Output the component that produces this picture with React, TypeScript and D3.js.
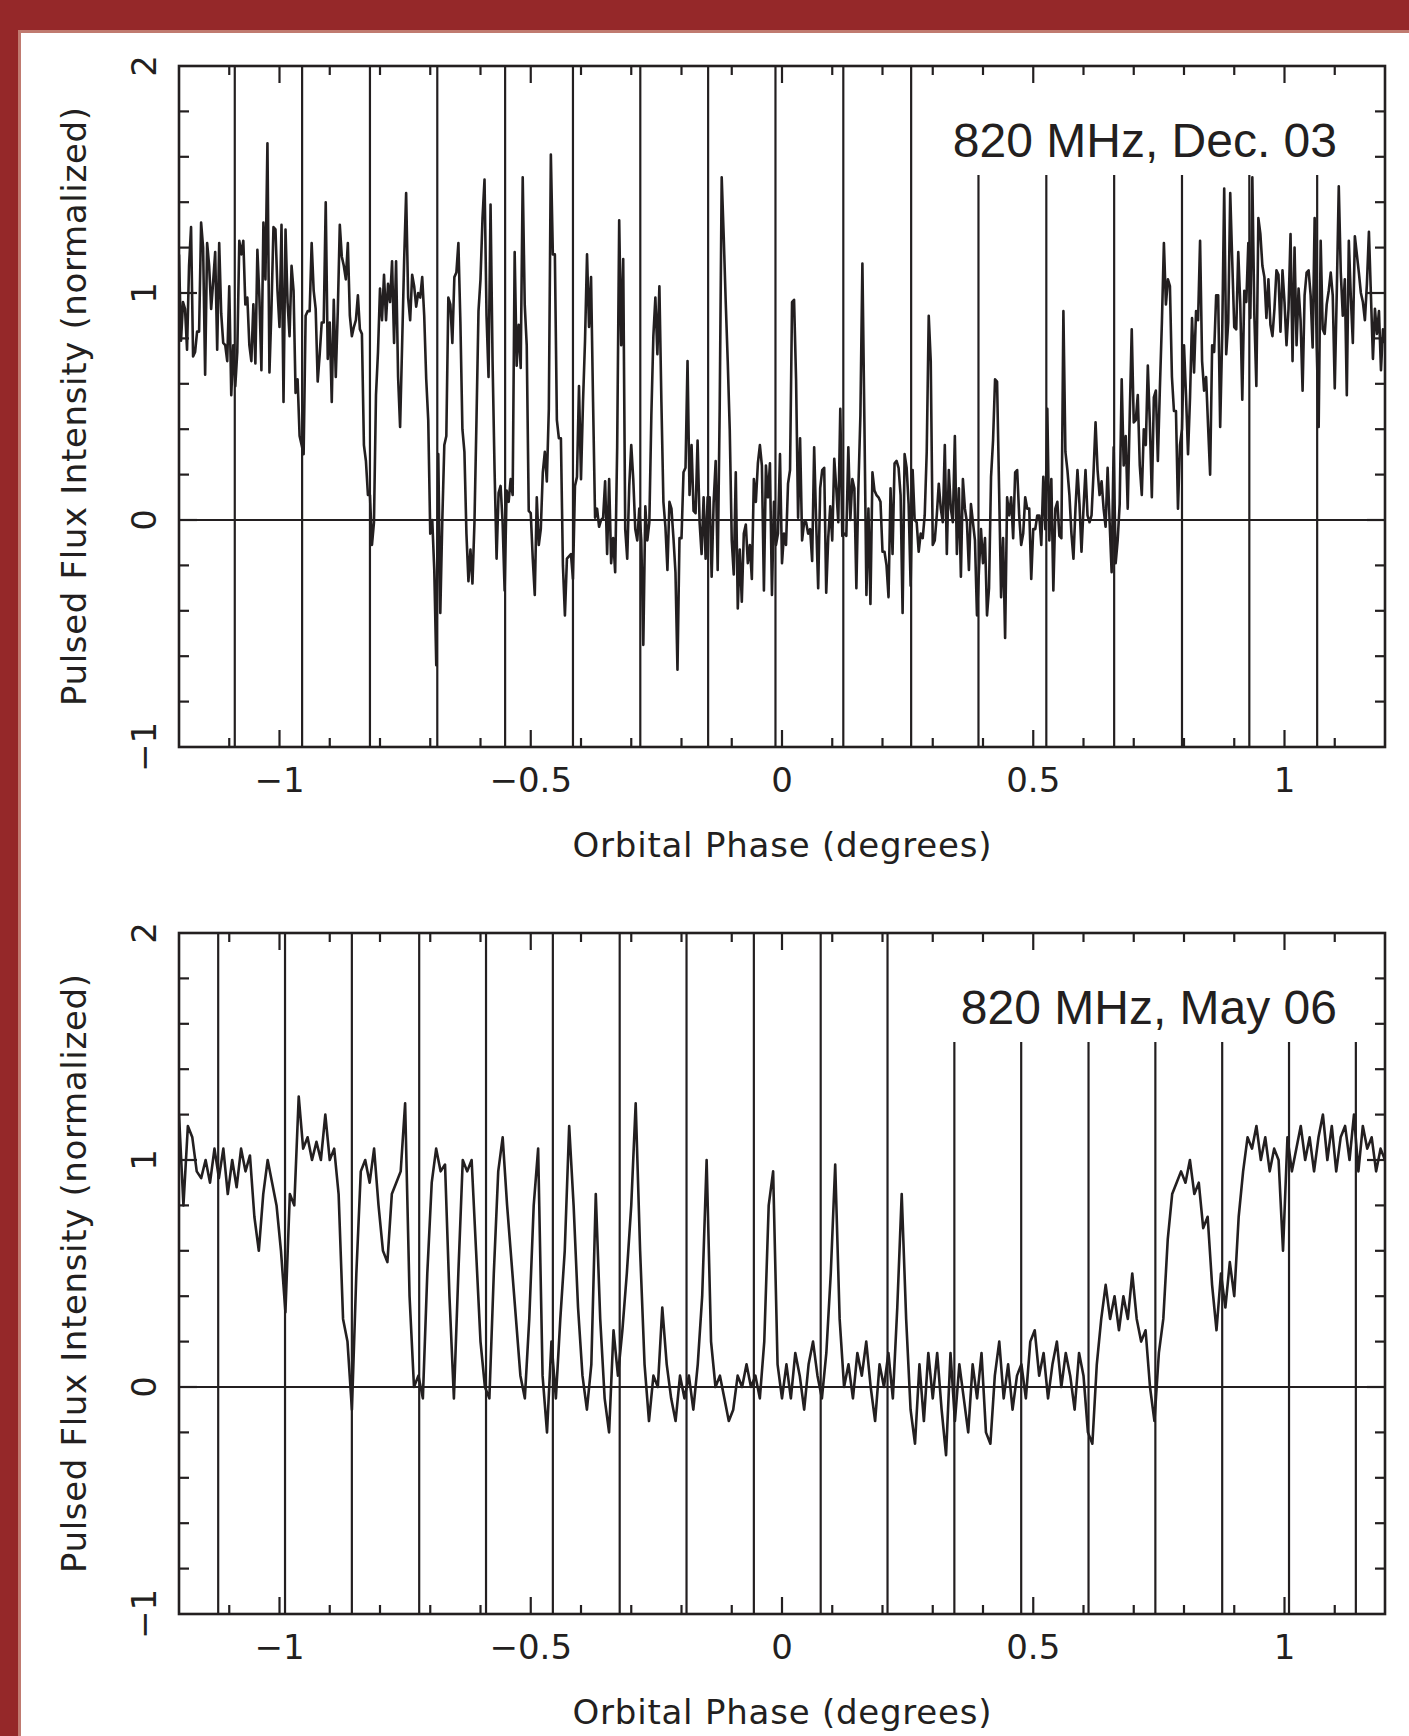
import React from 'react';
import * as d3 from 'd3';

// Pulsed flux, 820 MHz, Dec. 03 (phase -1.2 .. 1.2, evenly sampled)
const decFlux = [
  1.17, 0.79, 0.96, 0.93, 0.75, 1.12, 1.29, 0.72, 0.74, 0.83,
  0.83, 1.31, 1.20, 0.64, 1.22, 1.12, 0.93, 1.05, 1.18, 0.75, 1.22,
  0.91, 0.78, 0.77, 0.70, 1.03, 0.55, 0.77, 0.59, 0.74, 1.23,
  1.17, 1.23, 0.95, 0.98, 0.77, 0.70, 0.95, 0.69, 1.19, 0.98, 0.66,
  1.31, 1.06, 1.66, 0.65, 0.93, 1.29, 1.28, 1.01, 0.85, 1.30,
  0.52, 1.28, 0.96, 0.81, 1.12, 1.01, 0.56, 0.62, 0.37, 0.33,
  0.29, 0.90, 0.92, 0.92, 1.22, 1.01, 0.93, 0.61, 0.73, 0.87,
  0.87, 1.40, 0.71, 0.87, 0.52, 0.97, 0.63, 0.92, 1.30, 1.16,
  1.12, 1.06, 1.22, 0.90, 0.81, 0.85, 0.88, 0.99, 0.84, 0.82, 0.33,
  0.26, 0.11, 0.11, -0.11, -0.01, 0.55, 0.74, 1.02, 0.88, 1.08,
  0.88, 1.04, 0.96, 1.14, 0.78, 1.14, 0.63, 0.41, 0.77, 1.14,
  1.44, 0.98, 0.88, 1.08, 1.03, 0.94, 1.00, 0.98, 1.07, 0.90, 0.62,
  0.44, -0.06, 0.00, -0.22, -0.64, 0.29, -0.41, 0.00, 0.33, 0.37,
  0.98, 0.95, 0.78, 1.07, 1.09, 1.22, 0.87, 0.40, 0.30, -0.06,
  -0.27, -0.13, -0.28, -0.01, 0.44, 0.92, 1.06, 1.33, 1.50,
  0.90, 0.63, 1.39, 0.70, 0.22, -0.17, 0.12, 0.15, -0.01, -0.31,
  0.13, 0.08, 0.18, 0.11, 1.18, 0.68, 0.86, 0.67, 1.51, 0.95,
  0.77, 0.04, 0.03, -0.17, -0.33, 0.10, -0.11, -0.04, 0.21, 0.30, 0.17,
  0.49, 1.61, 1.17, 1.17, 0.44, 0.36, 0.36, -0.20, -0.42, -0.17,
  -0.16, -0.15, -0.26, 0.15, 0.19, 0.59, 0.18, 0.52, 0.79, 1.17,
  0.85, 1.07, 0.52, 0.01, 0.05, -0.03, 0.00, 0.01, 0.17, -0.15, 0.18,
  -0.19, -0.08, -0.23, 0.32, 1.32, 0.77, 1.15, -0.04, -0.17, 0.15,
  0.33, 0.18, -0.04, -0.09, 0.05, -0.09, -0.55, 0.06, -0.09, -0.01,
  0.46, 0.81, 0.98, 0.73, 1.03, 0.52, 0.08, -0.03, -0.22, 0.08,
  0.05, -0.08, -0.23, -0.66, -0.08, -0.08, 0.21, 0.23, 0.70, 0.11,
  0.33, 0.04, 0.03, 0.35, -0.01, -0.15, 0.10, -0.17, 0.10, 0.10,
  -0.25, 0.08, 0.26, -0.22, 0.49, 1.51, 1.25, 0.96, 0.70, 0.40,
  -0.09, -0.24, 0.21, -0.39, -0.13, -0.36, -0.06, -0.02, -0.19, -0.11, -0.26,
  0.18, 0.08, 0.25, 0.33, 0.24, -0.31, 0.24, 0.10, 0.25, -0.33,
  0.08, -0.11, -0.06, 0.29, -0.19, -0.06, -0.11, 0.16, 0.22,
  0.96, 0.97, 0.62, 0.01, 0.36, -0.09, -0.01, -0.01, -0.06, -0.04,
  -0.18, 0.32, -0.01, -0.30, 0.14, 0.22, 0.23, -0.32, -0.08, 0.06,
  -0.09, 0.27, 0.14, -0.01, 0.49, -0.07, -0.06, -0.07, 0.32, 0.00,
  0.18, 0.14, -0.30, 0.14, 0.46, 1.13, 0.43, -0.33, 0.05, -0.37,
  0.21, 0.13, 0.11, 0.10, 0.08, -0.14, -0.14, -0.20, -0.34, 0.14,
  -0.15, 0.25, 0.26, 0.23, 0.11, -0.41, 0.29, 0.23, 0.07, -0.29,
  0.22, 0.00, -0.01, -0.14, -0.06, -0.08, 0.02, 0.30, 0.90, 0.70,
  -0.11, -0.09, 0.02, 0.16, 0.05, -0.01, 0.33, -0.15, 0.22, 0.05,
  -0.01, 0.37, -0.15, 0.14, -0.25, 0.18, 0.05, -0.01, -0.22, 0.07,
  -0.01, -0.09, -0.42, -0.22, -0.04, -0.19, -0.08, -0.42, -0.30, 0.19,
  0.35, 0.62, 0.61, 0.14, -0.34, -0.08, -0.52, 0.10, 0.02, 0.10,
  -0.08, 0.21, 0.22, 0.02, -0.11, -0.06, 0.10, 0.05, 0.05, -0.26,
  -0.04, -0.04, 0.02, 0.02, -0.11, 0.19, -0.04, 0.49, -0.09, 0.18,
  -0.31, 0.05, 0.08, -0.07, -0.08, 0.92, 0.30, 0.22, 0.11, -0.06,
  -0.17, 0.05, 0.22, 0.07, -0.14, 0.05, 0.22, 0.02, -0.01, 0.02,
  0.21, 0.43,
  0.22, 0.11, 0.17, 0.05, -0.03, 0.23, -0.01, -0.23, 0.32, -0.19,
  -0.09, 0.07, 0.62, 0.24, 0.37, 0.05, 0.46, 0.84, 0.43, 0.44,
  0.55, 0.24, 0.11, 0.40, 0.33, 0.68, 0.43, 0.10, 0.54, 0.57,
  0.26, 0.58, 0.87, 1.22, 0.95, 1.06, 1.03, 0.63, 0.48, 0.48,
  0.05, 0.33, 0.40, 0.77, 0.55, 0.29, 0.54, 0.89, 0.65, 0.92,
  0.88, 1.23, 0.70, 0.57, 0.63, 0.41, 0.20, 0.77, 0.74, 0.99,
  0.99, 0.41, 0.81, 1.46, 0.73, 0.87, 1.44, 1.14, 0.85, 0.84,
  1.18, 0.95, 0.53, 1.01, 0.96, 1.22, 0.89, 1.51, 0.90, 0.59,
  1.33, 1.26, 1.12, 1.07, 0.89, 1.06, 0.86, 0.81, 0.93,
  1.10, 1.08, 0.83, 1.10, 0.96, 0.77, 0.93, 1.26, 0.70, 1.20,
  0.77, 1.02, 0.88, 0.57, 0.99, 1.09, 1.10, 0.99, 0.76, 1.33,
  0.77, 0.41, 1.23, 0.84, 0.82, 0.95, 1.01, 1.09, 0.99, 0.58,
  1.00, 1.47, 1.09, 0.90, 1.06, 0.55, 1.23, 0.98, 0.78, 1.25,
  1.17, 1.09, 1.00, 0.96, 0.88, 1.04, 1.27, 0.99, 0.71, 0.93,
  0.82, 0.92, 0.66, 0.84, 0.78,
];

// Pulsed flux, 820 MHz, May 06 (phase -1.2 .. 1.2, evenly sampled)
const mayFlux = [
  1.2, 0.8, 1.15, 1.1, 0.95, 0.92, 1.0, 0.9, 1.05, 0.92,
  1.05, 0.85, 1.0, 0.88, 1.05, 0.95, 1.02, 0.75, 0.6, 0.85,
  1.0, 0.9, 0.8, 0.6, 0.33, 0.85, 0.8, 1.28, 1.05, 1.1,
  1.0, 1.08, 1.0, 1.2, 1.0, 1.05, 0.85, 0.3, 0.2, -0.1,
  0.5, 0.95, 1.0, 0.9, 1.05, 0.8, 0.6, 0.55, 0.85, 0.9,
  0.95, 1.25, 0.4, 0.0, 0.05, -0.05, 0.5, 0.9, 1.05, 0.95,
  0.98, 0.4, -0.05, 0.5, 1.0, 0.95, 1.0, 0.6, 0.2, 0.0,
  -0.05, 0.5, 0.95, 1.1, 0.8, 0.55, 0.3, 0.05, -0.05, 0.3,
  0.8, 1.05, 0.05, -0.2, 0.2, -0.05, 0.3, 0.6, 1.15, 0.8,
  0.35, 0.05, -0.1, 0.1, 0.85, 0.3, -0.05, -0.2, 0.25, 0.05,
  0.25, 0.5, 0.8, 1.25, 0.6, 0.1, -0.15, 0.05, 0.0, 0.35,
  0.1, -0.05, -0.15, 0.05, -0.05, 0.05, -0.1, 0.1, 0.4, 1.0,
  0.2, 0.0, 0.05, -0.05, -0.15, -0.1, 0.05, 0.0, 0.1, 0.0,
  0.05, -0.05, 0.2, 0.8, 0.95, 0.1, -0.05, 0.1, -0.05, 0.15,
  0.05, -0.1, 0.1, 0.2, 0.05, -0.05, 0.15, 0.5, 0.98, 0.3,
  0.0, 0.1, -0.05, 0.15, 0.05, 0.2, 0.0, -0.15, 0.1, 0.0,
  0.15, -0.05, 0.35, 0.85, 0.3, -0.1, -0.25, 0.1, -0.15, 0.15,
  -0.05, 0.15, -0.1, -0.3, 0.15, -0.15, 0.1, -0.05, -0.2, 0.1,
  -0.05, 0.15, -0.2, -0.25, 0.05, 0.2, -0.05, 0.1, -0.1, 0.05,
  0.1, -0.05, 0.2, 0.25, 0.05, 0.15, -0.05, 0.1, 0.2, 0.0,
  0.15, 0.05, -0.1, 0.15, 0.05, -0.2, -0.25, 0.1, 0.3, 0.45,
  0.3, 0.4, 0.25, 0.4, 0.3, 0.5, 0.3, 0.2, 0.25, 0.0,
  -0.15, 0.15, 0.3, 0.65, 0.85, 0.9, 0.95, 0.9, 1.0, 0.85,
  0.9, 0.7, 0.75, 0.45, 0.25, 0.5, 0.35, 0.55, 0.4, 0.75,
  0.95, 1.1, 1.05, 1.15, 1.0, 1.1, 0.95, 1.05, 1.0, 0.6,
  1.1, 0.95, 1.05, 1.15, 1.0, 1.1, 0.95, 1.1, 1.2, 1.0,
  1.15, 0.95, 1.1, 1.15, 1.0, 1.2, 0.95, 1.15, 1.05, 1.1,
  0.95, 1.05, 1.0,
];

// vertical marker phases
const decMarkers = [-1.089, -0.955, -0.82, -0.686, -0.551, -0.416, -0.282, -0.147, -0.013,
  0.122, 0.257, 0.391, 0.526, 0.661, 0.796, 0.93, 1.065];
const mayMarkers = [-1.122, -0.989, -0.856, -0.722, -0.589, -0.456, -0.323, -0.19, -0.056,
  0.077, 0.21, 0.343, 0.476, 0.61, 0.743, 0.876, 1.009, 1.142];

const phaseDomain: [number, number] = [-1.2, 1.2];
const fluxDomain: [number, number] = [-1, 2];
const xTickLabels = [-1, -0.5, 0, 0.5, 1];
const yTickLabels = [-1, 0, 1, 2];

const ink = '#231f20';
const axisFont = 'DejaVu Sans, sans-serif';
const fmt = (v: number) => (v < 0 ? '\u2212' + String(-v) : String(v));

interface PanelProps {
  top: number;
  flux: number[];
  markers: number[];
  shortFrom: number;
  label: string;
  id: string;
}

const Panel: React.FC<PanelProps> = ({ top, flux, markers, shortFrom, label, id }) => {
  const left = 179, right = 1385, h = 681;
  const x = d3.scaleLinear().domain(phaseDomain).range([left, right]);
  const y = d3.scaleLinear().domain(fluxDomain).range([top + h, top]);
  const n = flux.length;
  const pts: [number, number][] = flux.map((v, i) => [phaseDomain[0] + (i * (phaseDomain[1] - phaseDomain[0])) / (n - 1), v]);
  const line = d3.line<[number, number]>().x(d => x(d[0])).y(d => y(d[1]));

  const xt = d3.range(-11, 12).map(k => ({ v: k / 10, major: k % 5 === 0 }));
  const yt = d3.range(-4, 10).map(k => ({ v: k / 5, major: k % 5 === 0 }));

  return (
    <g>
      <defs>
        <clipPath id={id}>
          <rect x={left} y={top} width={right - left} height={h} />
        </clipPath>
      </defs>
      {/* marker lines */}
      {markers.map(m => (
        <line key={m} x1={x(m)} x2={x(m)} y1={m >= shortFrom ? y(1.52) : y(2)} y2={y(-1)}
          stroke={ink} strokeWidth={2.2} />
      ))}
      {/* zero line */}
      <line x1={left} x2={right} y1={y(0)} y2={y(0)} stroke={ink} strokeWidth={2.2} />
      <path d={line(pts) || ''} fill="none" stroke={ink} strokeWidth={2.6} strokeLinejoin="round"
        clipPath={`url(#${id})`} />
      {/* ticks */}
      {xt.map(t => {
        const len = t.major ? 17 : 9;
        return (
          <g key={'x' + t.v}>
            <line x1={x(t.v)} x2={x(t.v)} y1={top + h} y2={top + h - len} stroke={ink} strokeWidth={2.2} />
            <line x1={x(t.v)} x2={x(t.v)} y1={top} y2={top + len} stroke={ink} strokeWidth={2.2} />
          </g>
        );
      })}
      {yt.map(t => {
        const len = t.major ? 18 : 10;
        return (
          <g key={'y' + t.v}>
            <line x1={left} x2={left + len} y1={y(t.v)} y2={y(t.v)} stroke={ink} strokeWidth={2.2} />
            <line x1={right} x2={right - len} y1={y(t.v)} y2={y(t.v)} stroke={ink} strokeWidth={2.2} />
          </g>
        );
      })}
      <rect x={left} y={top} width={right - left} height={h} fill="none" stroke={ink} strokeWidth={2.6} />
      {/* tick labels */}
      {xTickLabels.map(v => (
        <text key={'xl' + v} x={x(v)} y={top + h + 45} textAnchor="middle" fontSize={34}
          fontFamily={axisFont} fill={ink}>{fmt(v)}</text>
      ))}
      {yTickLabels.map(v => (
        <text key={'yl' + v} transform={`translate(156,${y(v)}) rotate(-90)`} textAnchor="middle"
          fontSize={34} fontFamily={axisFont} fill={ink}>{fmt(v)}</text>
      ))}
      <text x={x(0)} y={top + h + 110} textAnchor="middle" fontSize={34} fontFamily={axisFont}
        fill={ink} textLength={419} lengthAdjust="spacing">Orbital Phase (degrees)</text>
      <text transform={`translate(86,${top + h / 2}) rotate(-90)`} textAnchor="middle" fontSize={34}
        fontFamily={axisFont} fill={ink} textLength={599} lengthAdjust="spacing">
        Pulsed Flux Intensity (normalized)
      </text>
      <text x={1337} y={top + 91} textAnchor="end" fontSize={48}
        fontFamily="Liberation Sans, Arial, sans-serif" fill={ink}>{label}</text>
    </g>
  );
};

const App: React.FC = () => {
  const W = 1409, H = 1736;
  return (
    <svg width={W} height={H} viewBox={`0 0 ${W} ${H}`}
      style={{ position: 'absolute', left: 0, top: 0, display: 'block' }}>
      <rect width={W} height={H} fill="#952829" />
      <rect x={18} y={30} width={W - 18} height={H - 30} fill="#c07a70" />
      <rect x={21} y={33} width={W - 21} height={H - 33} fill="#ffffff" />
      <Panel top={66} flux={decFlux} markers={decMarkers} shortFrom={0.35}
        label="820 MHz, Dec. 03" id="clipDec" />
      <Panel top={933} flux={mayFlux} markers={mayMarkers} shortFrom={0.3}
        label="820 MHz, May 06" id="clipMay" />
    </svg>
  );
};

export default App;
